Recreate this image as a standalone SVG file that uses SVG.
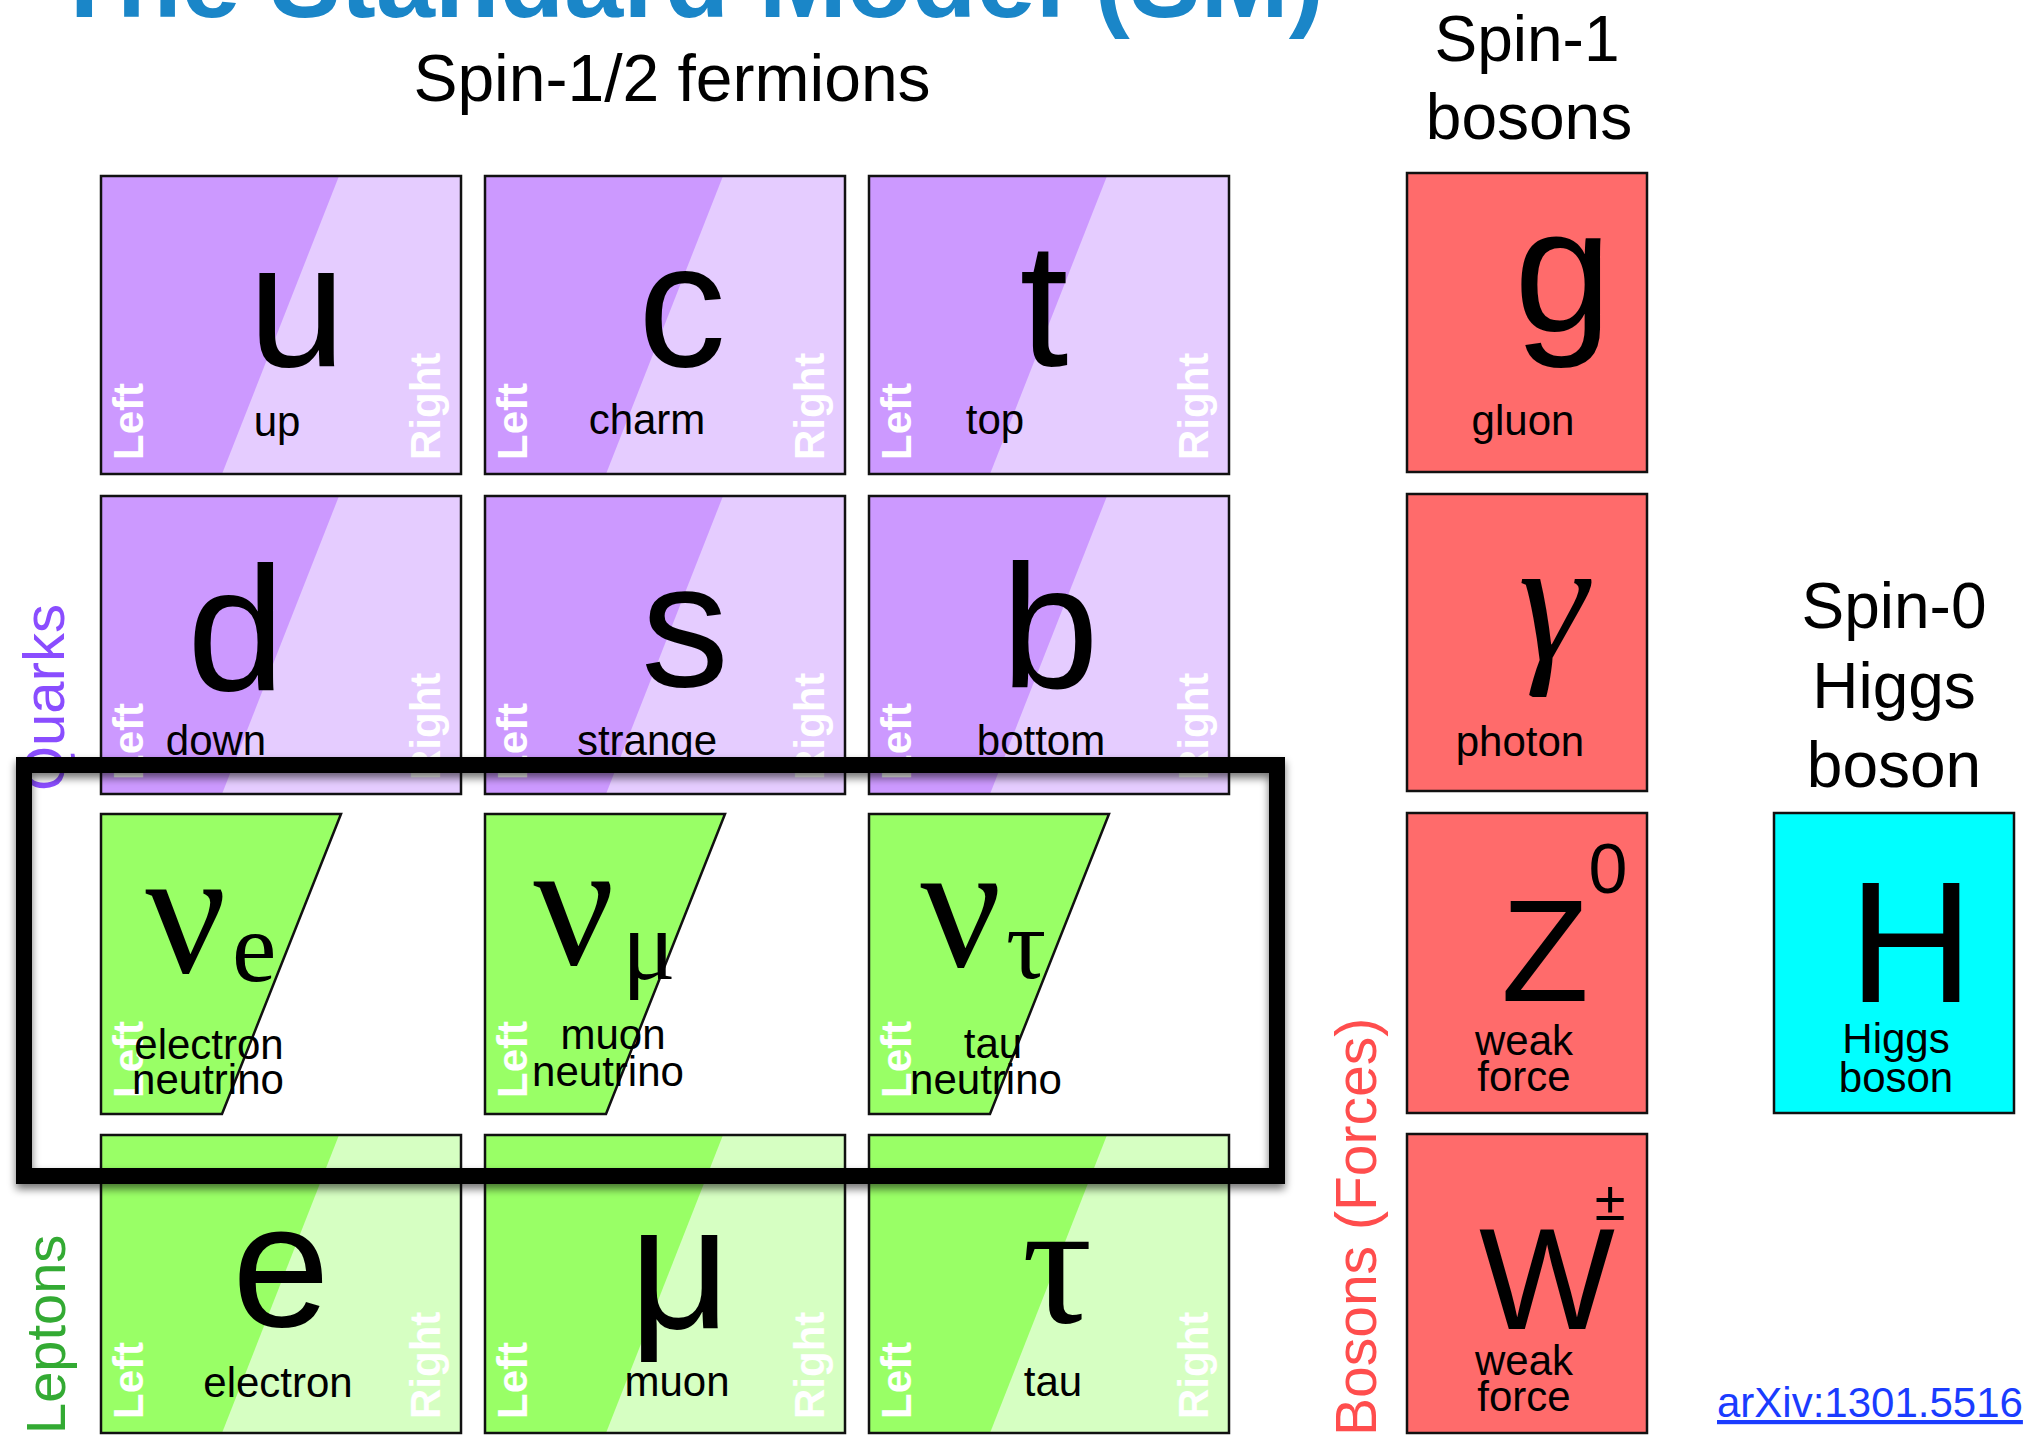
<svg xmlns="http://www.w3.org/2000/svg" width="2027" height="1436" viewBox="0 0 2027 1436">
<defs>
<style>
.ol{fill:none;stroke:#111;stroke-width:2.5}
.qd{fill:#cc99ff}.ql{fill:#e5ccff}.ld{fill:#99ff66}.ll{fill:#d6ffc2}
.bos{fill:#ff6b6b;stroke:#111;stroke-width:2.5}
.hig{fill:#00ffff;stroke:#111;stroke-width:2.5}
.sym{font-family:"Liberation Sans",Arial,sans-serif;font-size:176px;text-anchor:middle;fill:#000}
.ser{font-family:"Liberation Serif","Times New Roman",serif}
.nm{font-family:"Liberation Sans",Arial,sans-serif;font-size:42px;text-anchor:middle;fill:#000}
.lr{font-family:"Liberation Sans",Arial,sans-serif;font-weight:bold;font-size:42px;fill:#fff}
.hd{font-family:"Liberation Sans",Arial,sans-serif;font-size:64px;text-anchor:middle;fill:#000}
.side{font-family:"Liberation Sans",Arial,sans-serif}
</style>
<filter id="sh" x="-5%" y="-5%" width="110%" height="115%">
<feGaussianBlur in="SourceAlpha" stdDeviation="4"/>
<feOffset dx="0" dy="5" result="b"/>
<feComponentTransfer><feFuncA type="linear" slope="0.55"/></feComponentTransfer>
<feMerge><feMergeNode/><feMergeNode in="SourceGraphic"/></feMerge>
</filter>
</defs>
<rect width="2027" height="1436" fill="#fff"/>

<text x="52" y="17" font-family="Liberation Sans, Arial, sans-serif" font-weight="bold" font-size="106" fill="#1a86c8">The Standard Model (SM)</text>
<text x="672" y="101" class="hd" style="font-size:66px">Spin-1/2 fermions</text>
<text x="1527" y="61" class="hd">Spin-1</text>
<text x="1529" y="139" class="hd">bosons</text>
<text x="1894" y="628" class="hd">Spin-0</text>
<text x="1894" y="708" class="hd">Higgs</text>
<text x="1894" y="787" class="hd">boson</text>

<!-- Row 1 -->
<g id="up">
<rect class="ql" x="101" y="176" width="360" height="298"/>
<polygon class="qd" points="101,176 339,176 222,474 101,474"/>
<rect class="ol" x="101" y="176" width="360" height="298"/>
<text class="sym" x="297" y="366">u</text>
<text class="nm" x="277" y="436">up</text>
<text class="lr" transform="translate(143,460) rotate(-90)">Left</text>
<text class="lr" transform="translate(440,460) rotate(-90)">Right</text>
</g>
<g id="charm">
<rect class="ql" x="485" y="176" width="360" height="298"/>
<polygon class="qd" points="485,176 723,176 606,474 485,474"/>
<rect class="ol" x="485" y="176" width="360" height="298"/>
<text class="sym" x="682" y="366">c</text>
<text class="nm" x="647" y="434">charm</text>
<text class="lr" transform="translate(527,460) rotate(-90)">Left</text>
<text class="lr" transform="translate(824,460) rotate(-90)">Right</text>
</g>
<g id="top">
<rect class="ql" x="869" y="176" width="360" height="298"/>
<polygon class="qd" points="869,176 1107,176 990,474 869,474"/>
<rect class="ol" x="869" y="176" width="360" height="298"/>
<text class="sym" x="1044" y="366">t</text>
<text class="nm" x="995" y="434">top</text>
<text class="lr" transform="translate(911,460) rotate(-90)">Left</text>
<text class="lr" transform="translate(1208,460) rotate(-90)">Right</text>
</g>

<!-- Row 2 -->
<g id="down">
<rect class="ql" x="101" y="496" width="360" height="298"/>
<polygon class="qd" points="101,496 339,496 222,794 101,794"/>
<rect class="ol" x="101" y="496" width="360" height="298"/>
<text class="sym" x="236" y="690">d</text>
<text class="nm" x="216" y="755">down</text>
<text class="lr" transform="translate(143,780) rotate(-90)">Left</text>
<text class="lr" transform="translate(440,780) rotate(-90)">Right</text>
</g>
<g id="strange">
<rect class="ql" x="485" y="496" width="360" height="298"/>
<polygon class="qd" points="485,496 723,496 606,794 485,794"/>
<rect class="ol" x="485" y="496" width="360" height="298"/>
<text class="sym" x="685" y="686">s</text>
<text class="nm" x="647" y="755">strange</text>
<text class="lr" transform="translate(527,780) rotate(-90)">Left</text>
<text class="lr" transform="translate(824,780) rotate(-90)">Right</text>
</g>
<g id="bottom">
<rect class="ql" x="869" y="496" width="360" height="298"/>
<polygon class="qd" points="869,496 1107,496 990,794 869,794"/>
<rect class="ol" x="869" y="496" width="360" height="298"/>
<text class="sym" x="1050" y="688">b</text>
<text class="nm" x="1041" y="755">bottom</text>
<text class="lr" transform="translate(911,780) rotate(-90)">Left</text>
<text class="lr" transform="translate(1208,780) rotate(-90)">Right</text>
</g>

<!-- Row 3 neutrinos -->
<g id="nu_e">
<polygon class="ld" points="101,814 341,814 222,1114 101,1114" stroke="#111" stroke-width="2.5"/>
<text class="sym ser" x="186" y="972" style="font-size:180px">ν</text>
<text class="ser" x="232" y="981" style="font-size:100px">e</text>
<text class="lr" transform="translate(143,1098) rotate(-90)">Left</text>
<text class="nm" x="209" y="1059">electron</text>
<text class="nm" x="208" y="1094">neutrino</text>
</g>
<g id="nu_mu">
<polygon class="ld" points="485,814 725,814 606,1114 485,1114" stroke="#111" stroke-width="2.5"/>
<text class="sym ser" x="574" y="964" style="font-size:180px">ν</text>
<text class="ser" x="622" y="979" style="font-size:100px">μ</text>
<text class="lr" transform="translate(527,1098) rotate(-90)">Left</text>
<text class="nm" x="613" y="1049">muon</text>
<text class="nm" x="608" y="1086">neutrino</text>
</g>
<g id="nu_tau">
<polygon class="ld" points="869,814 1109,814 990,1114 869,1114" stroke="#111" stroke-width="2.5"/>
<text class="sym ser" x="961" y="966" style="font-size:180px">ν</text>
<text class="ser" x="1006" y="978" style="font-size:100px">τ</text>
<text class="lr" transform="translate(911,1098) rotate(-90)">Left</text>
<text class="nm" x="993" y="1058">tau</text>
<text class="nm" x="986" y="1094">neutrino</text>
</g>

<!-- Row 4 -->
<g id="electron">
<rect class="ll" x="101" y="1135" width="360" height="298"/>
<polygon class="ld" points="101,1135 339,1135 222,1433 101,1433"/>
<rect class="ol" x="101" y="1135" width="360" height="298"/>
<text class="sym" x="281" y="1326">e</text>
<text class="nm" x="278" y="1397">electron</text>
<text class="lr" transform="translate(143,1419) rotate(-90)">Left</text>
<text class="lr" transform="translate(440,1419) rotate(-90)">Right</text>
</g>
<g id="muon">
<rect class="ll" x="485" y="1135" width="360" height="298"/>
<polygon class="ld" points="485,1135 723,1135 606,1433 485,1433"/>
<rect class="ol" x="485" y="1135" width="360" height="298"/>
<text class="sym" x="680" y="1328">μ</text>
<text class="nm" x="677" y="1396">muon</text>
<text class="lr" transform="translate(527,1419) rotate(-90)">Left</text>
<text class="lr" transform="translate(824,1419) rotate(-90)">Right</text>
</g>
<g id="tau">
<rect class="ll" x="869" y="1135" width="360" height="298"/>
<polygon class="ld" points="869,1135 1107,1135 990,1433 869,1433"/>
<rect class="ol" x="869" y="1135" width="360" height="298"/>
<text class="sym ser" x="1057" y="1322">τ</text>
<text class="nm" x="1053" y="1396">tau</text>
<text class="lr" transform="translate(911,1419) rotate(-90)">Left</text>
<text class="lr" transform="translate(1208,1419) rotate(-90)">Right</text>
</g>

<!-- Bosons -->
<g id="gluon">
<rect class="bos" x="1407" y="173" width="240" height="299"/>
<text class="sym" x="1563" y="331">g</text>
<text class="nm" x="1523" y="435">gluon</text>
</g>
<g id="photon">
<rect class="bos" x="1407" y="494" width="240" height="297"/>
<text class="sym ser" x="1553" y="660" style="font-style:italic">γ</text>
<text class="nm" x="1520" y="756">photon</text>
</g>
<g id="Z">
<rect class="bos" x="1407" y="813" width="240" height="300"/>
<text class="sym" x="1545" y="1001" style="font-size:144px">Z</text>
<text class="sym" x="1608" y="893" style="font-size:70px">0</text>
<text class="nm" x="1524" y="1055">weak</text>
<text class="nm" x="1524" y="1091">force</text>
</g>
<g id="W">
<rect class="bos" x="1407" y="1134" width="240" height="299"/>
<text class="sym" x="1547" y="1329" style="font-size:144px">W</text>
<text class="sym" x="1610" y="1220" style="font-size:56px">±</text>
<text class="nm" x="1524" y="1375">weak</text>
<text class="nm" x="1524" y="1411">force</text>
</g>
<g id="higgs">
<rect class="hig" x="1774" y="813" width="240" height="300"/>
<text class="sym" x="1911" y="1002" style="font-size:173px">H</text>
<text class="nm" x="1896" y="1053">Higgs</text>
<text class="nm" x="1896" y="1092">boson</text>
</g>

<!-- Side labels -->
<text class="side" font-size="58" fill="#8a4dff" transform="translate(64,791) rotate(-90)">Quarks</text>
<text class="side" font-size="56" fill="#33aa33" transform="translate(65,1434) rotate(-90)">Leptons</text>
<text class="side" font-size="57" fill="#ff4d4d" transform="translate(1376,1436) rotate(-90)">Bosons (Forces)</text>

<text x="1717" y="1417" font-family="Liberation Sans, Arial, sans-serif" font-size="42" fill="#1a3cff" text-decoration="underline">arXiv:1301.5516</text>

<g id="connectors"></g>

<g id="highlight">
<rect x="24" y="765" width="1253" height="411" fill="none" stroke="#000" stroke-width="16" filter="url(#sh)"/>
</g>
</svg>
